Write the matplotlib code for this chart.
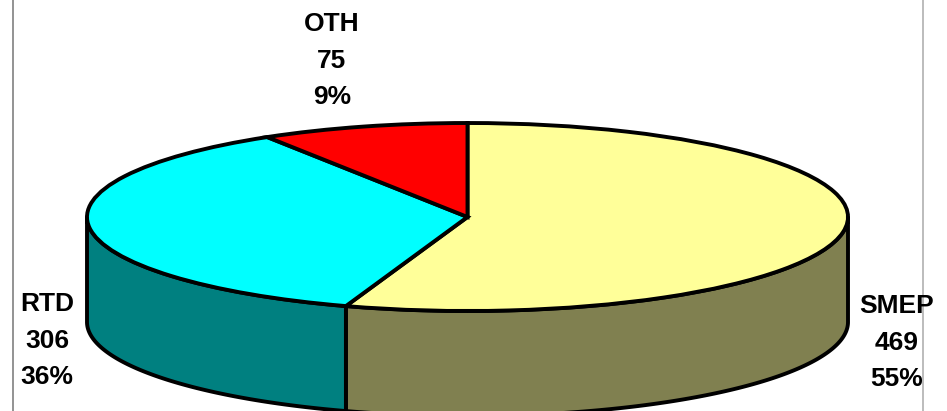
import numpy as np
import matplotlib
matplotlib.use("Agg")
import matplotlib.pyplot as plt
from matplotlib.transforms import Affine2D

categories = ["SMEP", "RTD", "OTH"]
values = [469, 306, 75]
percent_labels = ["55%", "36%", "9%"]
top_colors = ["#FFFF99", "#00FFFF", "#FF0000"]
side_colors = ["#808050", "#008080", "#800000"]
label_xy = {"SMEP": (897, 306), "RTD": (47, 304), "OTH": (332, 24)}

plt.rcParams["font.family"] = ["Liberation Sans", "DejaVu Sans"]
W, H = 947, 411
CX, CY, RX, RY, DEPTH = 467.5, 217, 380.5, 94, 105
LW = 2.8

fig = plt.figure(figsize=(W / 100, H / 100), dpi=100)
ax = fig.add_axes([0, 0, 1, 1])

# top face: a pie squashed to an ellipse (y axis points down, hence the flip)
wedges, _ = ax.pie(values, colors=top_colors, startangle=90, counterclock=False,
                   wedgeprops=dict(edgecolor="black", linewidth=LW), frame=False)
ax.set_aspect("auto")
ax.set_xlim(0, W)
ax.set_ylim(H, 0)
ax.axis("off")
squash = Affine2D().scale(RX, -RY).translate(CX, CY) + ax.transData
for w in wedges:
    w.set_transform(squash)
    w.set_zorder(2)

# frame lines at both sides of the picture
ax.plot([12.5, 12.5], [0, H], color="#808080", lw=1.2, zorder=0)
ax.plot([923, 923], [0, H], color="#b0b0b0", lw=1.2, zorder=0)

# side walls, from the same fractions as the pie
fractions = np.array(values) / sum(values)
edges = 90 - 360 * np.concatenate([[0], np.cumsum(fractions)])
for start, end, color in zip(edges[:-1], edges[1:], side_colors):
    a0, a1 = min(start, 0), max(end, -180)
    if a0 <= a1:
        continue
    t = np.radians(np.linspace(a0, a1, 200))
    x = CX + RX * np.cos(t)
    y = CY - RY * np.sin(t)
    ax.fill(np.r_[x, x[::-1]], np.r_[y, y[::-1] + DEPTH],
            facecolor=color, edgecolor="black", lw=LW, joinstyle="round", zorder=1)

for name, val, pct in zip(categories, values, percent_labels):
    lx, ly = label_xy[name]
    for i, s in enumerate([name, str(val), pct]):
        ax.text(lx, ly + i * 36.5, s, ha="center", va="center", fontsize=19,
                fontweight="bold", color="black", zorder=3)

fig.savefig("out.png", dpi=100, facecolor="white")
